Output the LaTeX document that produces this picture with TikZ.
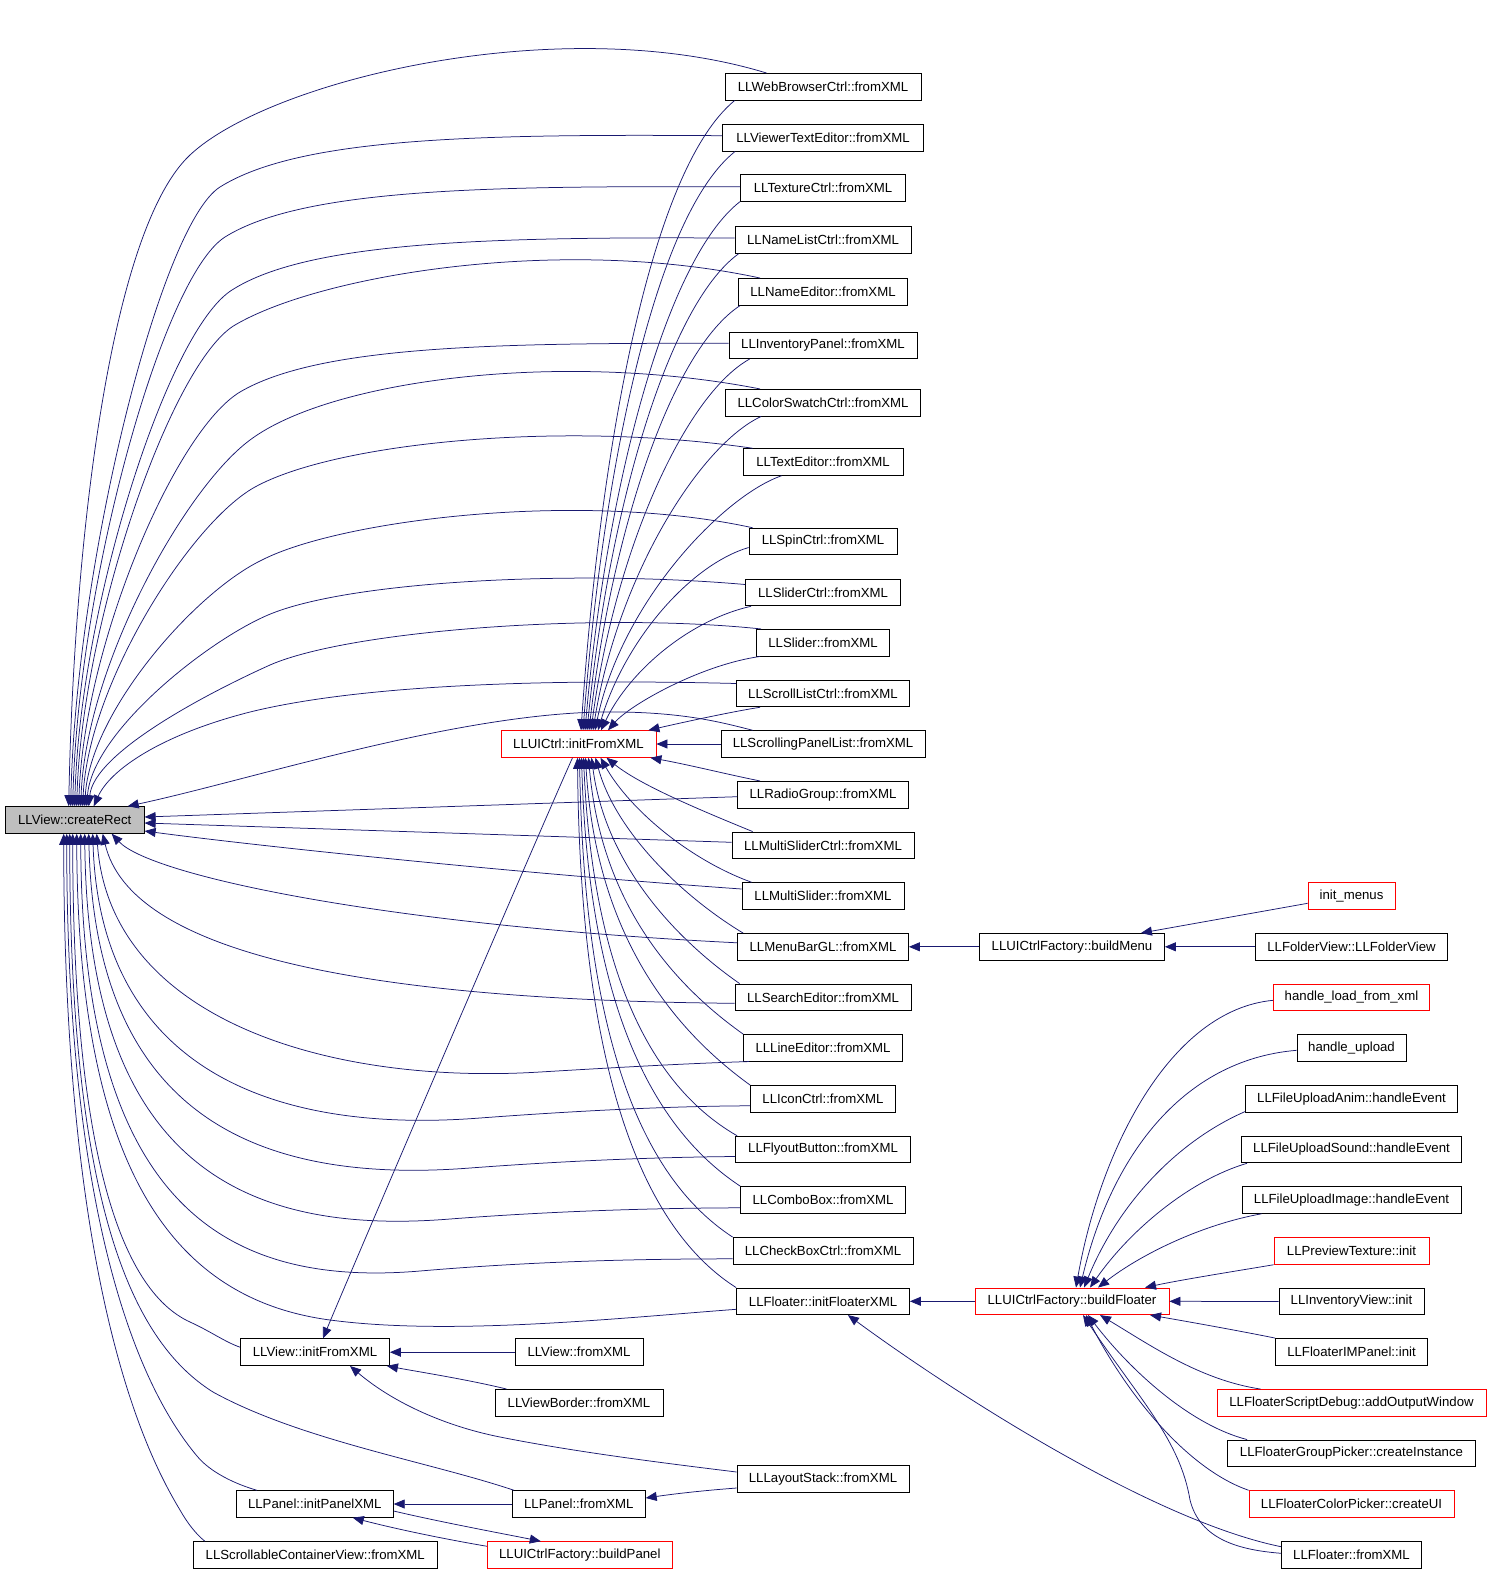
\documentclass[tikz,border=0pt]{standalone}
\usepackage{fontspec}
\setmainfont{Liberation Sans}
\usetikzlibrary{arrows.meta,calc}
\definecolor{edgecol}{RGB}{25,25,112}
\definecolor{greyfill}{RGB}{191,191,191}
\newcommand\lfs{\fontsize{13.2pt}{15pt}\selectfont}
\begin{document}
\begin{tikzpicture}[x=1pt,y=-1pt,
  nb/.style={draw=black,line width=0.8pt,minimum height=26.7pt,inner sep=0pt,font=\lfs,text=black},
  rb/.style={nb,draw=red},
  e/.style={draw=edgecol,line width=0.75pt,arrows={Triangle[length=11pt,width=9pt]-}}]
\useasboundingbox (0,0) rectangle (1491,1573);
\fill[white] (0,0) rectangle (1491,1573);
% column 1
\node[nb,fill=greyfill,minimum width=139pt] (createRect) at (74.7,820) {LLView::createRect};
\node[nb,minimum width=149pt] (viewinit) at (315,1352.2) {LLView::initFromXML};
\node[nb,minimum width=157pt] (panelinit) at (314.8,1504) {LLPanel::initPanelXML};
\node[nb,minimum width=244pt] (scrollable) at (315.3,1555) {LLScrollableContainerView::fromXML};
% column 2
\node[rb,minimum width=155pt] (uictrl) at (578.5,744) {LLUICtrl::initFromXML};
\node[nb,minimum width=128pt] (viewfrom) at (579,1352.2) {LLView::fromXML};
\node[nb,minimum width=168pt] (viewborder) at (579,1402.8) {LLViewBorder::fromXML};
\node[nb,minimum width=133pt] (panelfrom) at (578.8,1504) {LLPanel::fromXML};
\node[rb,minimum width=185pt] (buildpanel) at (579.8,1555) {LLUICtrlFactory::buildPanel};
% column 3
\node[nb,minimum width=196pt] (web) at (823,86.8) {LLWebBrowserCtrl::fromXML};
\node[nb,minimum width=201pt] (viewer) at (823,137.7) {LLViewerTextEditor::fromXML};
\node[nb,minimum width=165pt] (texture) at (823,187.8) {LLTextureCtrl::fromXML};
\node[nb,minimum width=176pt] (namelist) at (823,240) {LLNameListCtrl::fromXML};
\node[nb,minimum width=169pt] (nameed) at (823,291.8) {LLNameEditor::fromXML};
\node[nb,minimum width=188pt] (invpanel) at (823,345.3) {LLInventoryPanel::fromXML};
\node[nb,minimum width=195pt] (colorsw) at (823,402.7) {LLColorSwatchCtrl::fromXML};
\node[nb,minimum width=160pt] (texted) at (823,462) {LLTextEditor::fromXML};
\node[nb,minimum width=148pt] (spin) at (823,541.5) {LLSpinCtrl::fromXML};
\node[nb,minimum width=155pt] (sliderctrl) at (823,592.5) {LLSliderCtrl::fromXML};
\node[nb,minimum width=133pt] (slider) at (823,642.7) {LLSlider::fromXML};
\node[nb,minimum width=173pt] (scrolllist) at (823,693.5) {LLScrollListCtrl::fromXML};
\node[nb,minimum width=204pt] (scrollpanel) at (823,744) {LLScrollingPanelList::fromXML};
\node[nb,minimum width=171pt] (radio) at (823,794.7) {LLRadioGroup::fromXML};
\node[nb,minimum width=182pt] (msliderctrl) at (823,845.3) {LLMultiSliderCtrl::fromXML};
\node[nb,minimum width=162pt] (mslider) at (823,896) {LLMultiSlider::fromXML};
\node[nb,minimum width=171pt] (menubar) at (823,946.8) {LLMenuBarGL::fromXML};
\node[nb,minimum width=176pt] (search) at (823,997.3) {LLSearchEditor::fromXML};
\node[nb,minimum width=159pt] (lineed) at (823,1047.8) {LLLineEditor::fromXML};
\node[nb,minimum width=145pt] (icon) at (823,1098.8) {LLIconCtrl::fromXML};
\node[nb,minimum width=175pt] (flyout) at (823,1149.5) {LLFlyoutButton::fromXML};
\node[nb,minimum width=165pt] (combo) at (823,1199.8) {LLComboBox::fromXML};
\node[nb,minimum width=180pt] (checkbox) at (823,1250.8) {LLCheckBoxCtrl::fromXML};
\node[nb,minimum width=173pt] (floaterinit) at (823,1301.3) {LLFloater::initFloaterXML};
\node[nb,minimum width=172pt] (layoutstack) at (823,1479) {LLLayoutStack::fromXML};
% column 4
\node[nb,minimum width=185pt] (buildmenu) at (1072,946.8) {LLUICtrlFactory::buildMenu};
\node[rb,minimum width=194pt] (buildfloater) at (1072,1301.3) {LLUICtrlFactory::buildFloater};
% column 5
\node[rb,minimum width=87pt] (initmenus) at (1351.5,895.8) {init\_menus};
\node[nb,minimum width=192pt] (folderview) at (1351.5,946.8) {LLFolderView::LLFolderView};
\node[rb,minimum width=156pt] (hload) at (1351.5,997.3) {handle\_load\_from\_xml};
\node[nb,minimum width=109pt] (hupload) at (1351.5,1047.8) {handle\_upload};
\node[nb,minimum width=212pt] (anim) at (1351.5,1098.8) {LLFileUploadAnim::handleEvent};
\node[nb,minimum width=220pt] (sound) at (1351.5,1149.5) {LLFileUploadSound::handleEvent};
\node[nb,minimum width=219pt] (image) at (1351.5,1200) {LLFileUploadImage::handleEvent};
\node[rb,minimum width=155pt] (prevtex) at (1351.5,1251) {LLPreviewTexture::init};
\node[nb,minimum width=145pt] (invview) at (1351.5,1301.5) {LLInventoryView::init};
\node[nb,minimum width=152pt] (impanel) at (1351.5,1351.8) {LLFloaterIMPanel::init};
\node[rb,minimum width=269pt] (scriptdbg) at (1351.5,1402.8) {LLFloaterScriptDebug::addOutputWindow};
\node[nb,minimum width=248pt] (grouppick) at (1351.5,1453.3) {LLFloaterGroupPicker::createInstance};
\node[rb,minimum width=205pt] (colorpick) at (1351.5,1504) {LLFloaterColorPicker::createUI};
\node[nb,minimum width=140pt] (floaterfrom) at (1351.5,1555) {LLFloater::fromXML};

% ---- edges to createRect (upper)
\draw[e] ($(createRect.north)+(-6,0)$) .. controls (74,540) and (110,230) .. (190,155) .. controls (270,80) and (560,10) .. ($(web.north west)+(42,0)$);
\draw[e] ($(createRect.north)+(-4,0)$) .. controls (76,565) and (160,225) .. (220,187) .. controls (300,137) and (480,134) .. ($(viewer.west)+(0,-2)$);
\draw[e] ($(createRect.north)+(-2,0)$) .. controls (78,585) and (162,277) .. (225,237) .. controls (305,187) and (500,186) .. ($(texture.west)+(0,-1)$);
\draw[e] ($(createRect.north)+(0,0)$) .. controls (80,605) and (168,330) .. (232,290) .. controls (310,240) and (500,237) .. ($(namelist.west)+(0,-2)$);
\draw[e] ($(createRect.north)+(2,0)$) .. controls (82,620) and (172,362) .. (235,325) .. controls (320,275) and (560,235) .. ($(nameed.north west)+(22,0)$);
\draw[e] ($(createRect.north)+(4,0)$) .. controls (84,645) and (175,431) .. (240,392) .. controls (320,345) and (500,343) .. ($(invpanel.west)+(0,-2)$);
\draw[e] ($(createRect.north)+(6,0)$) .. controls (86,665) and (185,488) .. (250,440) .. controls (330,380) and (560,350) .. ($(colorsw.north west)+(35,0)$);
\draw[e] ($(createRect.north)+(8,0)$) .. controls (88,685) and (190,523) .. (255,487) .. controls (335,443) and (560,420) .. ($(texted.north west)+(10,0)$);
\draw[e] ($(createRect.north)+(10,0)$) .. controls (90,712) and (195,592) .. (262,560) .. controls (340,520) and (580,490) .. ($(spin.north west)+(4,0)$);
\draw[e] ($(createRect.north)+(12,0)$) .. controls (92,733) and (205,642) .. (268,615) .. controls (350,580) and (580,570) .. ($(sliderctrl.west)+(0,-8)$);
\draw[e] ($(createRect.north)+(14,0)$) .. controls (94,752) and (210,692) .. (270,665) .. controls (350,630) and (600,612) .. ($(slider.north west)+(5,0)$);
\draw[e] ($(createRect.north)+(19,0)$) .. controls (110,770) and (160,735) .. (250,712) .. controls (380,680) and (600,680) .. ($(scrolllist.west)+(0,-10)$);
\draw[e] ($(createRect.north)+(53,0)$) .. controls (250,780) and (450,715) .. (600,712) .. controls (680,711) and (720,722) .. ($(scrollpanel.north west)+(32,0)$);
% right side
\draw[e] ($(createRect.east)+(0,-3)$) -- ($(radio.west)+(0,2)$);
\draw[e] ($(createRect.east)+(0,3)$) -- ($(msliderctrl.west)+(0,-3)$);
\draw[e] ($(createRect.east)+(0,11)$) .. controls (250,845) and (500,872) .. ($(mslider.west)+(0,-7)$);
% lower
\draw[e] ($(createRect.south)+(37,0)$) .. controls (150,875) and (380,925) .. ($(menubar.west)+(0,-4)$);
\draw[e] ($(createRect.south)+(28,0)$) .. controls (130,950) and (350,1000) .. ($(search.west)+(0,6)$);
\draw[e] ($(createRect.south)+(22,0)$) .. controls (110,1020) and (330,1085) .. (540,1072) .. controls (640,1066) and (700,1063) .. ($(lineed.south west)+(6,0)$);
\draw[e] ($(createRect.south)+(18,0)$) .. controls (100,1060) and (260,1135) .. (480,1118) .. controls (600,1109) and (690,1106) .. ($(icon.west)+(0,7)$);
\draw[e] ($(createRect.south)+(14,0)$) .. controls (95,1110) and (250,1185) .. (470,1168) .. controls (590,1159) and (680,1157) .. ($(flyout.west)+(0,7)$);
\draw[e] ($(createRect.south)+(10,0)$) .. controls (88,1160) and (240,1236) .. (450,1219) .. controls (580,1209) and (690,1208) .. ($(combo.west)+(0,8)$);
\draw[e] ($(createRect.south)+(6,0)$) .. controls (82,1210) and (230,1287) .. (420,1271) .. controls (560,1259) and (680,1259) .. ($(checkbox.west)+(0,8)$);
\draw[e] ($(createRect.south)+(2,0)$) .. controls (78,1180) and (180,1300) .. (330,1320) .. controls (450,1336) and (620,1318) .. ($(floaterinit.west)+(0,8)$);
\draw[e] ($(createRect.south)+(-2,0)$) .. controls (73,1150) and (120,1290) .. (190,1322) .. controls (210,1331) and (225,1342) .. ($(viewinit.west)+(0,-5)$);
\draw[e] ($(createRect.south)+(-5,0)$) .. controls (70,1200) and (130,1340) .. (213,1392) .. controls (300,1440) and (430,1462) .. ($(panelfrom.north west)+(2,0)$);
\draw[e] ($(createRect.south)+(-8,0)$) .. controls (67,1250) and (150,1400) .. (197,1456) .. controls (210,1472) and (235,1484) .. ($(panelinit.north west)+(21,0)$);
\draw[e] ($(createRect.south)+(-11,0)$) .. controls (64,1300) and (150,1460) .. (180,1510) .. controls (188,1524) and (196,1534) .. ($(scrollable.north west)+(12,0)$);

% ---- edges to LLUICtrl::initFromXML
\draw[e] ($(uictrl.north)+(2.5,0)$) .. controls (600,450) and (650,170) .. ($(web.south west)+(10,0)$);
\draw[e] ($(uictrl.north)+(4.5,0)$) .. controls (603,470) and (655,215) .. ($(viewer.south west)+(13,0)$);
\draw[e] ($(uictrl.north)+(6.5,0)$) .. controls (606,490) and (665,260) .. (texture.south west);
\draw[e] ($(uictrl.north)+(8.5,0)$) .. controls (609,510) and (668,305) .. ($(namelist.south west)+(4,0)$);
\draw[e] ($(uictrl.north)+(10.5,0)$) .. controls (612,530) and (672,350) .. ($(nameed.south west)+(2,0)$);
\draw[e] ($(uictrl.north)+(12.5,0)$) .. controls (615,550) and (685,395) .. ($(invpanel.south west)+(21,0)$);
\draw[e] ($(uictrl.north)+(14.5,0)$) .. controls (618,575) and (700,445) .. ($(colorsw.south west)+(36,0)$);
\draw[e] ($(uictrl.north)+(16.5,0)$) .. controls (622,600) and (725,495) .. ($(texted.south west)+(39,0)$);
\draw[e] ($(uictrl.north)+(19.5,0)$) .. controls (625,640) and (690,565) .. ($(spin.west)+(0,6)$);
\draw[e] ($(uictrl.north)+(22.5,0)$) .. controls (630,670) and (690,620) .. ($(sliderctrl.south west)+(6,0)$);
\draw[e] ($(uictrl.north)+(29.5,0)$) .. controls (630,705) and (700,665) .. ($(slider.south west)+(4,0)$);
\draw[e] ($(uictrl.north east)+(-8,0)$) .. controls (680,723) and (730,712) .. ($(scrolllist.south west)+(24,0)$);
\draw[e] (uictrl.east) -- (scrollpanel.west);
\draw[e] ($(uictrl.south east)+(-6,0)$) .. controls (690,765) and (730,775) .. ($(radio.north west)+(23,0)$);
\draw[e] ($(uictrl.south)+(28,0)$) .. controls (640,785) and (700,810) .. ($(msliderctrl.north west)+(21,0)$);
\draw[e] ($(uictrl.south)+(22,0)$) .. controls (630,810) and (690,860) .. ($(mslider.north west)+(10,0)$);
\draw[e] ($(uictrl.south)+(17,0)$) .. controls (615,830) and (680,895) .. ($(menubar.north west)+(6,0)$);
\draw[e] ($(uictrl.south)+(13,0)$) .. controls (605,860) and (670,935) .. ($(search.north west)+(5,0)$);
\draw[e] ($(uictrl.south)+(10,0)$) .. controls (600,890) and (660,975) .. (lineed.north west);
\draw[e] ($(uictrl.south)+(7,0)$) .. controls (595,920) and (660,1020) .. (icon.north west);
\draw[e] ($(uictrl.south)+(5,0)$) .. controls (592,950) and (640,1080) .. ($(flyout.north west)+(2,0)$);
\draw[e] ($(uictrl.south)+(3,0)$) .. controls (588,980) and (640,1120) .. (combo.north west);
\draw[e] ($(uictrl.south)+(1,0)$) .. controls (584,1010) and (630,1170) .. (checkbox.north west);
\draw[e] ($(uictrl.south)+(-1,0)$) .. controls (580,1040) and (630,1220) .. (floaterinit.north west);
\draw[e] ($(viewinit.north)+(8,0)$) .. controls (345,1285) and (540,830) .. ($(uictrl.south)+(-6,0)$);

% ---- factory edges
\draw[e] (menubar.east) -- (buildmenu.west);
\draw[e] ($(buildmenu.north east)+(-24,0)$) -- ($(initmenus.west)+(0,7.5)$);
\draw[e] (buildmenu.east) -- (folderview.west);
\draw[e] (floaterinit.east) -- (buildfloater.west);
\draw[e] (buildfloater.east) -- (invview.west);
\draw[e] ($(buildfloater.north)+(4,0)$) .. controls (1100,1150) and (1170,1010) .. ($(hload.west)+(0,3)$);
\draw[e] ($(buildfloater.north)+(8,0)$) .. controls (1110,1160) and (1180,1060) .. ($(hupload.west)+(0,2.5)$);
\draw[e] ($(buildfloater.north)+(12,0)$) .. controls (1120,1200) and (1180,1140) .. ($(anim.south west)+(0,-1)$);
\draw[e] ($(buildfloater.north)+(18,0)$) .. controls (1130,1230) and (1190,1180) .. ($(sound.south west)+(6,0)$);
\draw[e] ($(buildfloater.north)+(26,0)$) .. controls (1140,1255) and (1200,1225) .. ($(image.south west)+(20,0)$);
\draw[e] ($(buildfloater.north)+(73,0)$) .. controls (1180,1280) and (1230,1272) .. (prevtex.south west);
\draw[e] ($(buildfloater.south)+(78,0)$) .. controls (1190,1322) and (1235,1330) .. (impanel.north west);
\draw[e] ($(buildfloater.south)+(28,0)$) .. controls (1150,1345) and (1200,1380) .. ($(scriptdbg.north west)+(44,0)$);
\draw[e] ($(buildfloater.south)+(16,0)$) .. controls (1130,1370) and (1190,1425) .. ($(grouppick.north west)+(20,0)$);
\draw[e] ($(buildfloater.south)+(14,0)$) .. controls (1130,1400) and (1190,1470) .. (colorpick.north west);
\draw[e] ($(buildfloater.south)+(11,0)$) .. controls (1140,1400) and (1180,1440) .. (1190,1500) .. controls (1200,1540) and (1240,1550) .. ($(floaterfrom.west)+(0,-1.7)$);
\draw[e] ($(floaterinit.south east)+(-62,0)$) .. controls (950,1390) and (1150,1520) .. ($(floaterfrom.west)+(0,-8.3)$);

% ---- lower-left edges
\draw[e] (viewinit.east) -- (viewfrom.west);
\draw[e] ($(viewinit.south east)+(-3,0)$) .. controls (420,1372) and (470,1380) .. ($(viewborder.north west)+(12,0)$);
\draw[e] ($(viewinit.south)+(35,0)$) .. controls (390,1400) and (440,1425) .. (500,1437) .. controls (580,1453) and (680,1465) .. ($(layoutstack.west)+(0,-7)$);
\draw[e] ($(panelfrom.east)+(0,-6)$) .. controls (680,1493) and (710,1490) .. ($(layoutstack.west)+(0,9)$);
\draw[e] (panelinit.east) -- (panelfrom.west);
\draw[e] ($(panelinit.south)+(38,0)$) .. controls (400,1530) and (450,1540) .. ($(buildpanel.north west)+(0,5)$);
\draw[e] ($(buildpanel.north)+(-39,0)$) .. controls (510,1535) and (440,1522) .. ($(panelinit.east)+(0,7)$);
\end{tikzpicture}
\end{document}
